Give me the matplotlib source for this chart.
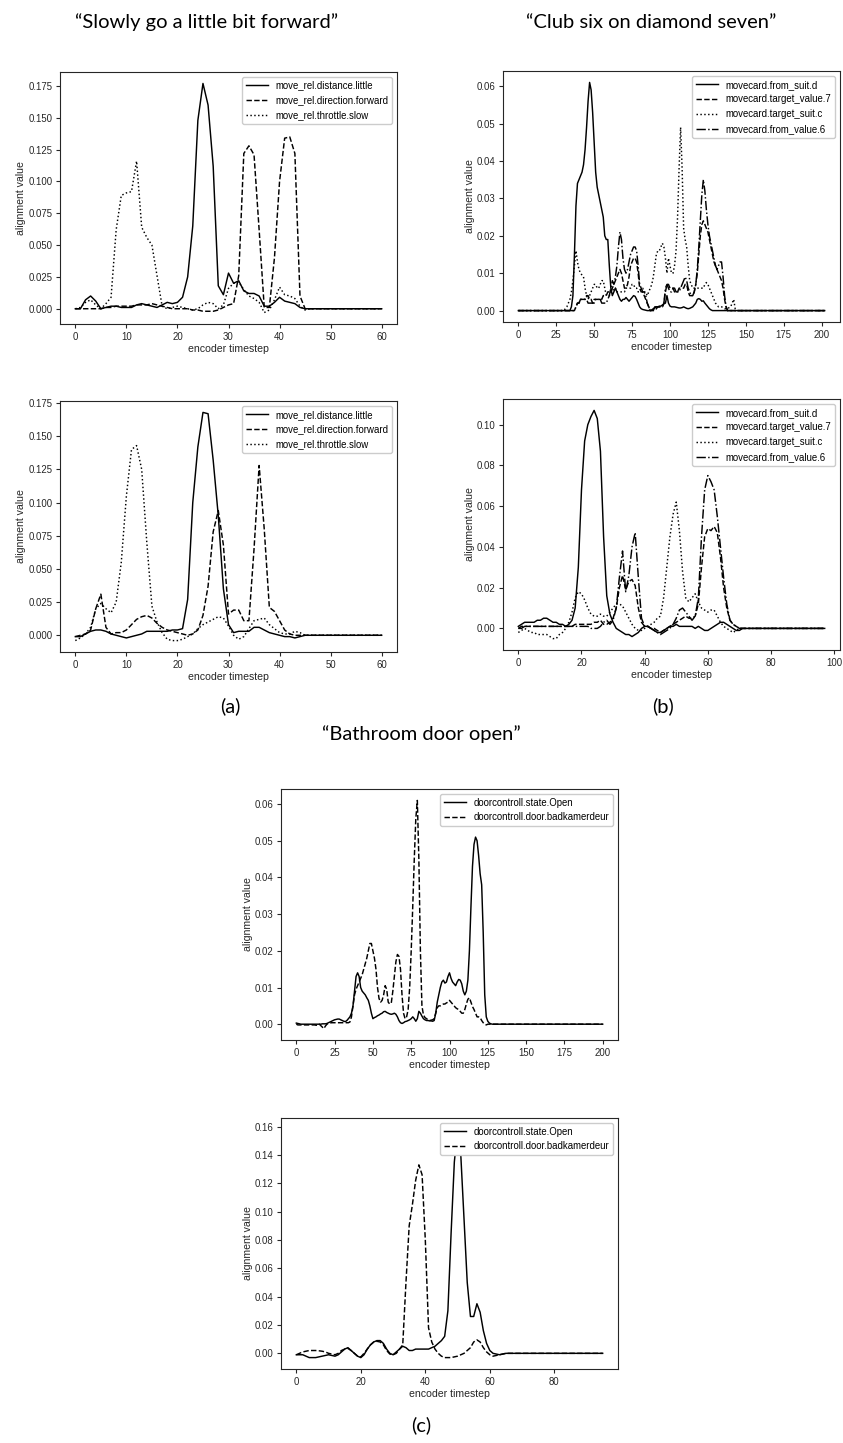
import numpy as np
import matplotlib
matplotlib.use("Agg")
import matplotlib.pyplot as plt
from matplotlib.ticker import MultipleLocator

# ---------------- data ----------------
# (a) "Slowly go a little bit forward"
A_LABELS = ["move_rel.distance.little", "move_rel.direction.forward", "move_rel.throttle.slow"]

A1_LITTLE = [0.000, 0.000, 0.007, 0.010, 0.006, 0.000, 0.001, 0.002, 0.002, 0.001,
             0.001, 0.001, 0.003, 0.004, 0.003, 0.002, 0.001, 0.003, 0.005, 0.004,
             0.005, 0.009, 0.025, 0.065, 0.148, 0.177, 0.160, 0.112, 0.018, 0.011,
             0.028, 0.020, 0.022, 0.014, 0.012, 0.012, 0.010, 0.002, 0.002, 0.005,
             0.009, 0.006, 0.005, 0.004, 0.001, 0.000, 0, 0, 0, 0,
             0, 0, 0, 0, 0, 0, 0, 0, 0, 0, 0]
A1_FORWARD = [0, 0, 0, 0, 0, 0, 0.001, 0.001, 0.002, 0.002,
              0.002, 0.002, 0.003, 0.003, 0.003, 0.004, 0.003, 0.002, 0.001, 0.000,
              0.000, 0.000, 0.000, -0.001, -0.001, -0.002, -0.002, -0.002, -0.001, 0.001,
              0.003, 0.004, 0.026, 0.122, 0.128, 0.121, 0.062, 0.001, 0.001, 0.040,
              0.100, 0.134, 0.135, 0.122, 0.010, 0.000, 0, 0, 0, 0,
              0, 0, 0, 0, 0, 0, 0, 0, 0, 0, 0]
A1_SLOW = [0.000, 0.001, 0.005, 0.007, 0.003, 0.000, 0.004, 0.009, 0.062, 0.089,
           0.091, 0.092, 0.116, 0.064, 0.056, 0.050, 0.026, 0.002, 0.000, 0.001,
           0.002, 0.001, 0.000, -0.001, 0.000, 0.003, 0.005, 0.004, 0.000, 0.003,
           0.016, 0.020, 0.021, 0.015, 0.010, 0.008, 0.005, -0.003, -0.001, 0.007,
           0.017, 0.011, 0.010, 0.008, 0.002, -0.001, 0, 0, 0, 0,
           0, 0, 0, 0, 0, 0, 0, 0, 0, 0, 0]

A2_LITTLE = [-0.001, -0.001, 0.001, 0.003, 0.004, 0.004, 0.003, 0.001, 0.000, -0.001,
             -0.002, -0.001, 0.000, 0.001, 0.003, 0.003, 0.003, 0.003, 0.003, 0.004,
             0.004, 0.005, 0.027, 0.100, 0.142, 0.168, 0.167, 0.132, 0.090, 0.035,
             0.008, 0.002, 0.003, 0.003, 0.003, 0.006, 0.006, 0.004, 0.002, 0.001,
             0.000, -0.001, -0.001, -0.002, -0.001, 0.000, 0, 0, 0, 0,
             0, 0, 0, 0, 0, 0, 0, 0, 0, 0, 0]
A2_FORWARD = [-0.001, 0.000, 0.001, 0.004, 0.020, 0.031, 0.006, 0.001, 0.002, 0.002,
              0.004, 0.008, 0.012, 0.014, 0.015, 0.013, 0.009, 0.006, 0.004, 0.003,
              0.002, 0.001, 0.000, 0.001, 0.004, 0.015, 0.037, 0.078, 0.094, 0.068,
              0.016, 0.019, 0.019, 0.011, 0.011, 0.065, 0.128, 0.080, 0.021, 0.018,
              0.011, 0.004, 0.001, 0.000, 0, 0, 0, 0, 0, 0,
              0, 0, 0, 0, 0, 0, 0, 0, 0, 0, 0]
A2_SLOW = [-0.004, -0.002, 0.001, 0.006, 0.020, 0.024, 0.020, 0.017, 0.025, 0.055,
           0.105, 0.140, 0.143, 0.125, 0.070, 0.022, 0.010, 0.002, -0.003, -0.004,
           -0.004, -0.003, -0.001, 0.001, 0.005, 0.008, 0.010, 0.012, 0.014, 0.013,
           0.007, 0.000, -0.003, -0.001, 0.005, 0.011, 0.012, 0.013, 0.008, 0.005,
           0.002, 0.001, 0.001, 0.003, 0.002, 0.000, 0, 0, 0, 0,
           0, 0, 0, 0, 0, 0, 0, 0, 0, 0, 0]

# (b) "Club six on diamond seven"
B_LABELS = ["movecard.from_suit.d", "movecard.target_value.7",
            "movecard.target_suit.c", "movecard.from_value.6"]

B1_FROM_SUIT_D = [
    0, 0, 0, 0, 0, 0, 0, 0, 0, 0,
    0, 0, 0, 0, 0, 0, 0, 0, 0, 0,
    0, 0, 0, 0, 0, 0, 0, 0, 0, 0,
    0, 0, 0, 0, 0, 0.001, 0.004, 0.015, 0.028, 0.034,
    0.035, 0.036, 0.037, 0.039, 0.043, 0.049, 0.056, 0.061, 0.059, 0.053,
    0.045, 0.037, 0.033, 0.031, 0.029, 0.027, 0.025, 0.020, 0.019, 0.019,
    0.012, 0.006, 0.004, 0.005, 0.006, 0.005, 0.004, 0.003, 0.0025, 0.003,
    0.003, 0.0035, 0.003, 0.0025, 0.003, 0.0035, 0.004, 0.0038, 0.003, 0.002,
    0.001, 0.0005, 0.0003, 0.0002, 0.0001, 0, 0, 0, 0.0002, 0.0005,
    0.0008, 0.001, 0.001, 0.0012, 0.0012, 0.0015, 0.0018, 0.002, 0.004, 0.002,
    0.0012, 0.001, 0.001, 0.001, 0.0009, 0.0008, 0.0007, 0.0007, 0.0008, 0.001,
    0.0008, 0.0006, 0.0005, 0.0006, 0.0008, 0.001, 0.0015, 0.002, 0.003, 0.0032,
    0.003, 0.0025, 0.0026, 0.002, 0.0015, 0.001, 0.0005, 0.0002, 0, 0,
    0, 0, 0, 0, 0, 0, 0, 0, 0, 0,
    0, 0, 0, 0, 0, 0, 0, 0, 0, 0,
    0, 0, 0, 0, 0, 0, 0, 0, 0, 0,
    0, 0, 0, 0, 0, 0, 0, 0, 0, 0,
    0, 0, 0, 0, 0, 0, 0, 0, 0, 0,
    0, 0, 0, 0, 0, 0, 0, 0, 0, 0,
    0, 0, 0, 0, 0, 0, 0, 0, 0, 0,
    0, 0, 0]
B1_TARGET_VALUE_7 = [
    0, 0, 0, 0, 0, 0, 0, 0, 0, 0,
    0, 0, 0, 0, 0, 0, 0, 0, 0, 0,
    0, 0, 0, 0, 0, 0, 0, 0, 0, 0,
    0, 0, 0, 0, 0, 0, 0, 0, 0.001, 0.002,
    0.002, 0.003, 0.003, 0.003, 0.003, 0.004, 0.004, 0.003, 0.003, 0.002,
    0.003, 0.003, 0.003, 0.003, 0.003, 0.003, 0.004, 0.004, 0.004, 0.005,
    0.005, 0.005, 0.006, 0.007, 0.008, 0.009, 0.010, 0.011, 0.010, 0.008,
    0.006, 0.006, 0.007, 0.009, 0.012, 0.013, 0.014, 0.014, 0.013, 0.010,
    0.006, 0.005, 0.005, 0.004, 0.003, 0.002, 0.001, 0, 0, 0,
    0, 0.0005, 0.001, 0.001, 0.001, 0.001, 0.002, 0.005, 0.007, 0.007,
    0.006, 0.006, 0.006, 0.005, 0.005, 0.005, 0.006, 0.006, 0.006, 0.006,
    0.007, 0.007, 0.005, 0.004, 0.004, 0.004, 0.005, 0.007, 0.010, 0.015,
    0.020, 0.023, 0.024, 0.023, 0.022, 0.021, 0.019, 0.017, 0.015, 0.013,
    0.012, 0.011, 0.010, 0.009, 0.008, 0.006, 0.003, 0.001, 0, 0,
    0, 0, 0, 0, 0, 0, 0, 0, 0, 0,
    0, 0, 0, 0, 0, 0, 0, 0, 0, 0,
    0, 0, 0, 0, 0, 0, 0, 0, 0, 0,
    0, 0, 0, 0, 0, 0, 0, 0, 0, 0,
    0, 0, 0, 0, 0, 0, 0, 0, 0, 0,
    0, 0, 0, 0, 0, 0, 0, 0, 0, 0,
    0, 0, 0]
B1_TARGET_SUIT_C = [
    0, 0, 0, 0, 0, 0, 0, 0, 0, 0,
    0, 0, 0, 0, 0, 0, 0, 0, 0, 0,
    0, 0, 0, 0, 0, 0, 0, 0, 0, 0,
    0, 0.0005, 0.001, 0.002, 0.003, 0.005, 0.008, 0.012, 0.016, 0.013,
    0.011, 0.010, 0.0095, 0.009, 0.006, 0.004, 0.003, 0.004, 0.005, 0.006,
    0.007, 0.007, 0.006, 0.006, 0.007, 0.008, 0.008, 0.006, 0.004, 0.004,
    0.004, 0.005, 0.005, 0.006, 0.006, 0.005, 0.005, 0.005, 0.005, 0.005,
    0.005, 0.006, 0.006, 0.006, 0.006, 0.007, 0.007, 0.006, 0.006, 0.005,
    0.005, 0.006, 0.006, 0.005, 0.005, 0.004, 0.005, 0.006, 0.007, 0.009,
    0.012, 0.015, 0.016, 0.016, 0.017, 0.018, 0.017, 0.014, 0.010, 0.014,
    0.012, 0.010, 0.010, 0.012, 0.016, 0.025, 0.038, 0.049, 0.038, 0.022,
    0.019, 0.017, 0.012, 0.008, 0.007, 0.006, 0.006, 0.006, 0.006, 0.006,
    0.006, 0.006, 0.006, 0.007, 0.0075, 0.007, 0.006, 0.005, 0.004, 0.003,
    0.002, 0.0015, 0.001, 0.001, 0.001, 0.0008, 0.0005, 0.0005, 0.0005, 0.0008,
    0.001, 0.002, 0.003, 0.0005, 0, 0, 0, 0, 0, 0,
    0, 0, 0, 0, 0, 0, 0, 0, 0, 0,
    0, 0, 0, 0, 0, 0, 0, 0, 0, 0,
    0, 0, 0, 0, 0, 0, 0, 0, 0, 0,
    0, 0, 0, 0, 0, 0, 0, 0, 0, 0,
    0, 0, 0, 0, 0, 0, 0, 0, 0, 0,
    0, 0, 0]
B1_FROM_VALUE_6 = [
    0, 0, 0, 0, 0, 0, 0, 0, 0, 0,
    0, 0, 0, 0, 0, 0, 0, 0, 0, 0,
    0, 0, 0, 0, 0, 0, 0, 0, 0, 0,
    0, 0, 0, 0, 0, 0, 0, 0, 0.001, 0.002,
    0.002, 0.003, 0.003, 0.003, 0.003, 0.003, 0.002, 0.002, 0.002, 0.002,
    0.002, 0.003, 0.003, 0.003, 0.003, 0.002, 0.002, 0.002, 0.002, 0.003,
    0.004, 0.006, 0.008, 0.007, 0.009, 0.012, 0.017, 0.021, 0.019, 0.014,
    0.011, 0.010, 0.011, 0.013, 0.015, 0.016, 0.017, 0.017, 0.016, 0.012,
    0.007, 0.006, 0.005, 0.005, 0.004, 0.002, 0.001, 0, 0, 0,
    0.001, 0.001, 0.001, 0.001, 0.001, 0.001, 0.002, 0.006, 0.007, 0.006,
    0.005, 0.005, 0.006, 0.006, 0.005, 0.005, 0.005, 0.006, 0.007, 0.008,
    0.009, 0.008, 0.006, 0.005, 0.004, 0.004, 0.005, 0.007, 0.011, 0.017,
    0.024, 0.031, 0.035, 0.032, 0.027, 0.023, 0.020, 0.018, 0.016, 0.014,
    0.012, 0.011, 0.012, 0.013, 0.013, 0.009, 0.004, 0.001, 0, 0,
    0, 0, 0, 0, 0, 0, 0, 0, 0, 0,
    0, 0, 0, 0, 0, 0, 0, 0, 0, 0,
    0, 0, 0, 0, 0, 0, 0, 0, 0, 0,
    0, 0, 0, 0, 0, 0, 0, 0, 0, 0,
    0, 0, 0, 0, 0, 0, 0, 0, 0, 0,
    0, 0, 0, 0, 0, 0, 0, 0, 0, 0,
    0, 0, 0]

B2_FROM_SUIT_D = [
    0.001, 0.002, 0.003, 0.003, 0.003, 0.003, 0.004, 0.004, 0.005, 0.005,
    0.004, 0.003, 0.003, 0.002, 0.002, 0.001, 0.002, 0.004, 0.010, 0.030,
    0.068, 0.092, 0.100, 0.104, 0.107, 0.103, 0.087, 0.045, 0.016, 0.007,
    0.003, 0.000, -0.001, -0.002, -0.003, -0.003, -0.004, -0.003, -0.002, 0.000,
    0.001, 0.001, 0.000, -0.001, -0.002, -0.002, -0.001, 0.000, 0.001, 0.001,
    0.002, 0.001, 0.001, 0.001, 0.001, 0.001, 0.000, 0.001, 0.000, -0.001,
    -0.001, 0.000, 0.001, 0.002, 0.003, 0.003, 0.002, 0.001, 0.000, -0.001,
    -0.001, 0, 0, 0, 0, 0, 0, 0, 0, 0,
    0, 0, 0, 0, 0, 0, 0, 0, 0, 0,
    0, 0, 0, 0, 0, 0, 0, 0]
B2_TARGET_VALUE_7 = [
    0.000, 0.001, 0.001, 0.001, 0.001, 0.001, 0.001, 0.001, 0.001, 0.001,
    0.001, 0.001, 0.001, 0.001, 0.001, 0.001, 0.001, 0.001, 0.002, 0.002,
    0.002, 0.002, 0.002, 0.002, 0.003, 0.003, 0.004, 0.002, 0.002, 0.003,
    0.005, 0.010, 0.020, 0.026, 0.019, 0.023, 0.024, 0.021, 0.010, 0.003,
    0.001, 0.001, 0.000, 0.000, -0.001, -0.002, -0.001, 0.000, 0.001, 0.002,
    0.003, 0.004, 0.005, 0.006, 0.005, 0.005, 0.006, 0.012, 0.030, 0.045,
    0.049, 0.048, 0.050, 0.047, 0.035, 0.020, 0.010, 0.004, 0.002, 0.001,
    0, 0, 0, 0, 0, 0, 0, 0, 0, 0,
    0, 0, 0, 0, 0, 0, 0, 0, 0, 0,
    0, 0, 0, 0, 0, 0, 0, 0]
B2_TARGET_SUIT_C = [
    -0.002, -0.001, 0.000, -0.001, -0.002, -0.002, -0.003, -0.003, -0.003, -0.003,
    -0.004, -0.005, -0.005, -0.003, -0.002, 0.000, 0.003, 0.008, 0.015, 0.018,
    0.017, 0.014, 0.010, 0.007, 0.006, 0.006, 0.007, 0.006, 0.006, 0.008,
    0.010, 0.012, 0.012, 0.011, 0.008, 0.005, 0.002, 0.000, -0.001, -0.001,
    0.000, 0.001, 0.002, 0.003, 0.005, 0.006, 0.015, 0.030, 0.045, 0.056,
    0.062, 0.048, 0.028, 0.015, 0.013, 0.015, 0.017, 0.013, 0.010, 0.009,
    0.008, 0.009, 0.009, 0.006, 0.003, 0.001, 0.000, -0.001, -0.002, -0.001,
    0, 0, 0, 0, 0, 0, 0, 0, 0, 0,
    0, 0, 0, 0, 0, 0, 0, 0, 0, 0,
    0, 0, 0, 0, 0, 0, 0, 0]
B2_FROM_VALUE_6 = [
    0.000, 0.000, 0.001, 0.001, 0.001, 0.001, 0.001, 0.001, 0.001, 0.001,
    0.001, 0.001, 0.001, 0.001, 0.001, 0.001, 0.001, 0.001, 0.001, 0.001,
    0.001, 0.001, 0.001, 0.000, 0.000, 0.000, 0.001, 0.003, 0.004, 0.002,
    0.004, 0.010, 0.025, 0.038, 0.018, 0.026, 0.040, 0.047, 0.025, 0.005,
    0.001, 0.001, 0.000, -0.001, -0.002, -0.003, -0.002, -0.001, 0.000, 0.002,
    0.005, 0.009, 0.010, 0.008, 0.006, 0.004, 0.006, 0.015, 0.045, 0.068,
    0.075, 0.072, 0.068, 0.055, 0.040, 0.025, 0.012, 0.004, 0.002, 0.001,
    0, 0, 0, 0, 0, 0, 0, 0, 0, 0,
    0, 0, 0, 0, 0, 0, 0, 0, 0, 0,
    0, 0, 0, 0, 0, 0, 0, 0]

# (c) "Bathroom door open"
C_LABELS = ["doorcontroll.state.Open", "doorcontroll.door.badkamerdeur"]

C1_OPEN = [
    0.0003, 0.0002, 0.0001, 0, 0, 0, 0, 0, 0, 0,
    0, 0, 0, 0, 0, 0, 0, 0.0001, 0.0001, 0.0001,
    0.0002, 0.0004, 0.0006, 0.0008, 0.001, 0.0012, 0.0013, 0.0014, 0.0014, 0.0012,
    0.001, 0.0008, 0.0007, 0.001, 0.0015, 0.002, 0.003, 0.005, 0.009, 0.013,
    0.014, 0.013, 0.010, 0.009, 0.0085, 0.008, 0.0072, 0.0065, 0.005, 0.003,
    0.0015, 0.0018, 0.002, 0.0023, 0.0025, 0.0028, 0.003, 0.0034, 0.0035, 0.0032,
    0.003, 0.0028, 0.0027, 0.0028, 0.003, 0.0027, 0.002, 0.001, 0.0004, 0.0002,
    0.0004, 0.0007, 0.0008, 0.001, 0.0012, 0.0015, 0.002, 0.0015, 0.0008, 0.0015,
    0.0035, 0.003, 0.0022, 0.0015, 0.0012, 0.001, 0.001, 0.0009, 0.0009, 0.0008,
    0.001, 0.003, 0.006, 0.008, 0.010, 0.0115, 0.012, 0.0112, 0.0115, 0.013,
    0.014, 0.0125, 0.0115, 0.011, 0.0105, 0.0115, 0.0122, 0.012, 0.011, 0.009,
    0.008, 0.009, 0.012, 0.020, 0.032, 0.043, 0.049, 0.051, 0.050, 0.046,
    0.041, 0.038, 0.025, 0.008, 0.002, 0.0008, 0.0003, 0.0001, 0, 0,
    0, 0, 0, 0, 0, 0, 0, 0, 0, 0,
    0, 0, 0, 0, 0, 0, 0, 0, 0, 0,
    0, 0, 0, 0, 0, 0, 0, 0, 0, 0,
    0, 0, 0, 0, 0, 0, 0, 0, 0, 0,
    0, 0, 0, 0, 0, 0, 0, 0, 0, 0,
    0, 0, 0, 0, 0, 0, 0, 0, 0, 0,
    0, 0, 0, 0, 0, 0, 0, 0, 0, 0,
    0]
C1_BADKAMERDEUR = [
    0, -0.0002, -0.0002, -0.0002, -0.0002, -0.0002, -0.0002, -0.0002, -0.0002, -0.0002,
    -0.0002, -0.0002, -0.0002, -0.0003, -0.0002, 0, -0.0004, -0.0008, -0.0012, -0.0005,
    0, 0.0002, 0.0003, 0.0004, 0.0004, 0.0004, 0.0004, 0.0004, 0.0004, 0.0004,
    0.0004, 0.0004, 0.0004, 0.0004, 0.0004, 0.0006, 0.002, 0.005, 0.008, 0.0095,
    0.0105, 0.0115, 0.0125, 0.0135, 0.015, 0.0165, 0.018, 0.020, 0.022, 0.022,
    0.020, 0.018, 0.015, 0.010, 0.007, 0.006, 0.0065, 0.008, 0.0105, 0.0095,
    0.006, 0.0055, 0.0058, 0.009, 0.013, 0.017, 0.019, 0.0185, 0.015, 0.008,
    0.003, 0.0015, 0.002, 0.004, 0.010, 0.020, 0.032, 0.045, 0.056, 0.061,
    0.045, 0.020, 0.005, 0.0025, 0.0018, 0.0015, 0.0012, 0.001, 0.0011, 0.0012,
    0.0015, 0.003, 0.0045, 0.005, 0.005, 0.0052, 0.0055, 0.0055, 0.0058, 0.006,
    0.0065, 0.006, 0.0055, 0.005, 0.0045, 0.0042, 0.004, 0.0035, 0.003, 0.003,
    0.004, 0.0055, 0.0068, 0.0072, 0.006, 0.0048, 0.004, 0.003, 0.002, 0.002,
    0.0018, 0.001, 0.0004, 0, -0.0002, 0, 0, 0, 0, 0,
    0, 0, 0, 0, 0, 0, 0, 0, 0, 0,
    0, 0, 0, 0, 0, 0, 0, 0, 0, 0,
    0, 0, 0, 0, 0, 0, 0, 0, 0, 0,
    0, 0, 0, 0, 0, 0, 0, 0, 0, 0,
    0, 0, 0, 0, 0, 0, 0, 0, 0, 0,
    0, 0, 0, 0, 0, 0, 0, 0, 0, 0,
    0, 0, 0, 0, 0, 0, 0, 0, 0, 0,
    0]

C2_OPEN = [
    -0.001, -0.001, -0.001, -0.002, -0.003, -0.003, -0.003, -0.0025, -0.002, -0.0015,
    -0.001, -0.0015, -0.002, -0.001, 0.001, 0.003, 0.004, 0.002, 0.000, -0.002,
    -0.003, -0.001, 0.003, 0.006, 0.008, 0.009, 0.009, 0.007, 0.003, 0.000,
    -0.001, 0.001, 0.003, 0.005, 0.004, 0.002, 0.002, 0.003, 0.003, 0.003,
    0.003, 0.003, 0.004, 0.005, 0.007, 0.009, 0.012, 0.030, 0.085, 0.135,
    0.158, 0.140, 0.095, 0.050, 0.026, 0.026, 0.035, 0.029, 0.016, 0.007,
    0.002, 0.000, -0.0005, -0.001, -0.0005, 0, 0, 0, 0, 0,
    0, 0, 0, 0, 0, 0, 0, 0, 0, 0,
    0, 0, 0, 0, 0, 0, 0, 0, 0, 0,
    0, 0, 0, 0, 0, 0]
C2_BADKAMERDEUR = [
    -0.001, 0.000, 0.001, 0.0015, 0.002, 0.002, 0.002, 0.0018, 0.0015, 0.001,
    0.000, -0.0005, -0.001, 0.000, 0.002, 0.003, 0.0035, 0.002, 0.000, -0.002,
    -0.0025, 0.000, 0.003, 0.006, 0.008, 0.0085, 0.008, 0.006, 0.002, -0.0005,
    -0.001, 0.000, 0.003, 0.006, 0.050, 0.090, 0.105, 0.122, 0.133, 0.126,
    0.080, 0.018, 0.008, 0.003, 0.000, -0.002, -0.003, -0.003, -0.003, -0.0025,
    -0.002, -0.001, 0.000, 0.002, 0.004, 0.008, 0.0095, 0.008, 0.004, 0.001,
    -0.001, -0.002, -0.0015, -0.001, -0.0005, 0, 0, 0, 0, 0,
    0, 0, 0, 0, 0, 0, 0, 0, 0, 0,
    0, 0, 0, 0, 0, 0, 0, 0, 0, 0,
    0, 0, 0, 0, 0, 0]

# ---------------- style ----------------
TEXT = '#262626'
plt.rcParams.update({
    'font.family': ['Liberation Sans', 'DejaVu Sans'],
    'axes.edgecolor': TEXT,
    'axes.linewidth': 0.8,
    'axes.labelcolor': TEXT,
    'axes.labelsize': 7.6,
    'xtick.color': TEXT,
    'ytick.color': TEXT,
    'xtick.labelsize': 6.9,
    'ytick.labelsize': 6.9,
    'xtick.major.size': 3,
    'ytick.major.size': 3,
    'xtick.major.width': 0.8,
    'ytick.major.width': 0.8,
    'xtick.major.pad': 2.5,
    'ytick.major.pad': 2.5,
    'axes.labelpad': 1.5,
    'legend.fontsize': 6.9,
})

W, H = 843, 1443
fig = plt.figure(figsize=(W / 100, H / 100), dpi=100)


def add_axes(l, t, r, b):
    return fig.add_axes([l / W, 1 - b / H, (r - l) / W, (b - t) / H])


def draw(ax, series, labels, styles, xstep, ystep):
    for vals, lab, ls in zip(series, labels, styles):
        ax.plot(np.arange(len(vals)), vals, color='black', lw=1.05, ls=ls, label=lab)
    ax.xaxis.set_major_locator(MultipleLocator(xstep))
    ax.yaxis.set_major_locator(MultipleLocator(ystep))
    ax.set_xlabel('encoder timestep')
    ax.set_ylabel('alignment value')
    ax.legend(loc='upper right', handlelength=2.3, borderaxespad=0.5, framealpha=1.0)


A_STYLES = ['-', '--', ':']
B_STYLES = ['-', '--', ':', '-.']
C_STYLES = ['-', '--']

ax = add_axes(60, 72, 397, 324)
draw(ax, [A1_LITTLE, A1_FORWARD, A1_SLOW], A_LABELS, A_STYLES, 10, 0.025)
ax = add_axes(60, 401, 397, 652)
draw(ax, [A2_LITTLE, A2_FORWARD, A2_SLOW], A_LABELS, A_STYLES, 10, 0.025)

ax = add_axes(503, 71, 840, 322)
draw(ax, [B1_FROM_SUIT_D, B1_TARGET_VALUE_7, B1_TARGET_SUIT_C, B1_FROM_VALUE_6],
     B_LABELS, B_STYLES, 25, 0.01)
ax = add_axes(503, 399, 840, 650)
draw(ax, [B2_FROM_SUIT_D, B2_TARGET_VALUE_7, B2_TARGET_SUIT_C, B2_FROM_VALUE_6],
     B_LABELS, B_STYLES, 20, 0.02)

ax = add_axes(281, 789, 618, 1040)
draw(ax, [C1_OPEN, C1_BADKAMERDEUR], C_LABELS, C_STYLES, 25, 0.01)
ax = add_axes(281, 1118, 618, 1369)
draw(ax, [C2_OPEN, C2_BADKAMERDEUR], C_LABELS, C_STYLES, 20, 0.02)

# ---------------- titles & captions ----------------
TFONT = ['Lato', 'DejaVu Sans']
TSIZE = 14.5


def ftext(x, y, s):
    fig.text(x / W, 1 - y / H, s, ha='center', va='center',
             fontsize=TSIZE, family=TFONT, color='black')


ftext(207, 22, '\u201cSlowly go a little bit forward\u201d')
ftext(651, 22, '\u201cClub six on diamond seven\u201d')
ftext(230, 706, '(a)')
ftext(663, 706, '(b)')
ftext(421, 734, '\u201cBathroom door open\u201d')
ftext(421, 1425, '(c)')

fig.savefig('out.png', dpi=100)
